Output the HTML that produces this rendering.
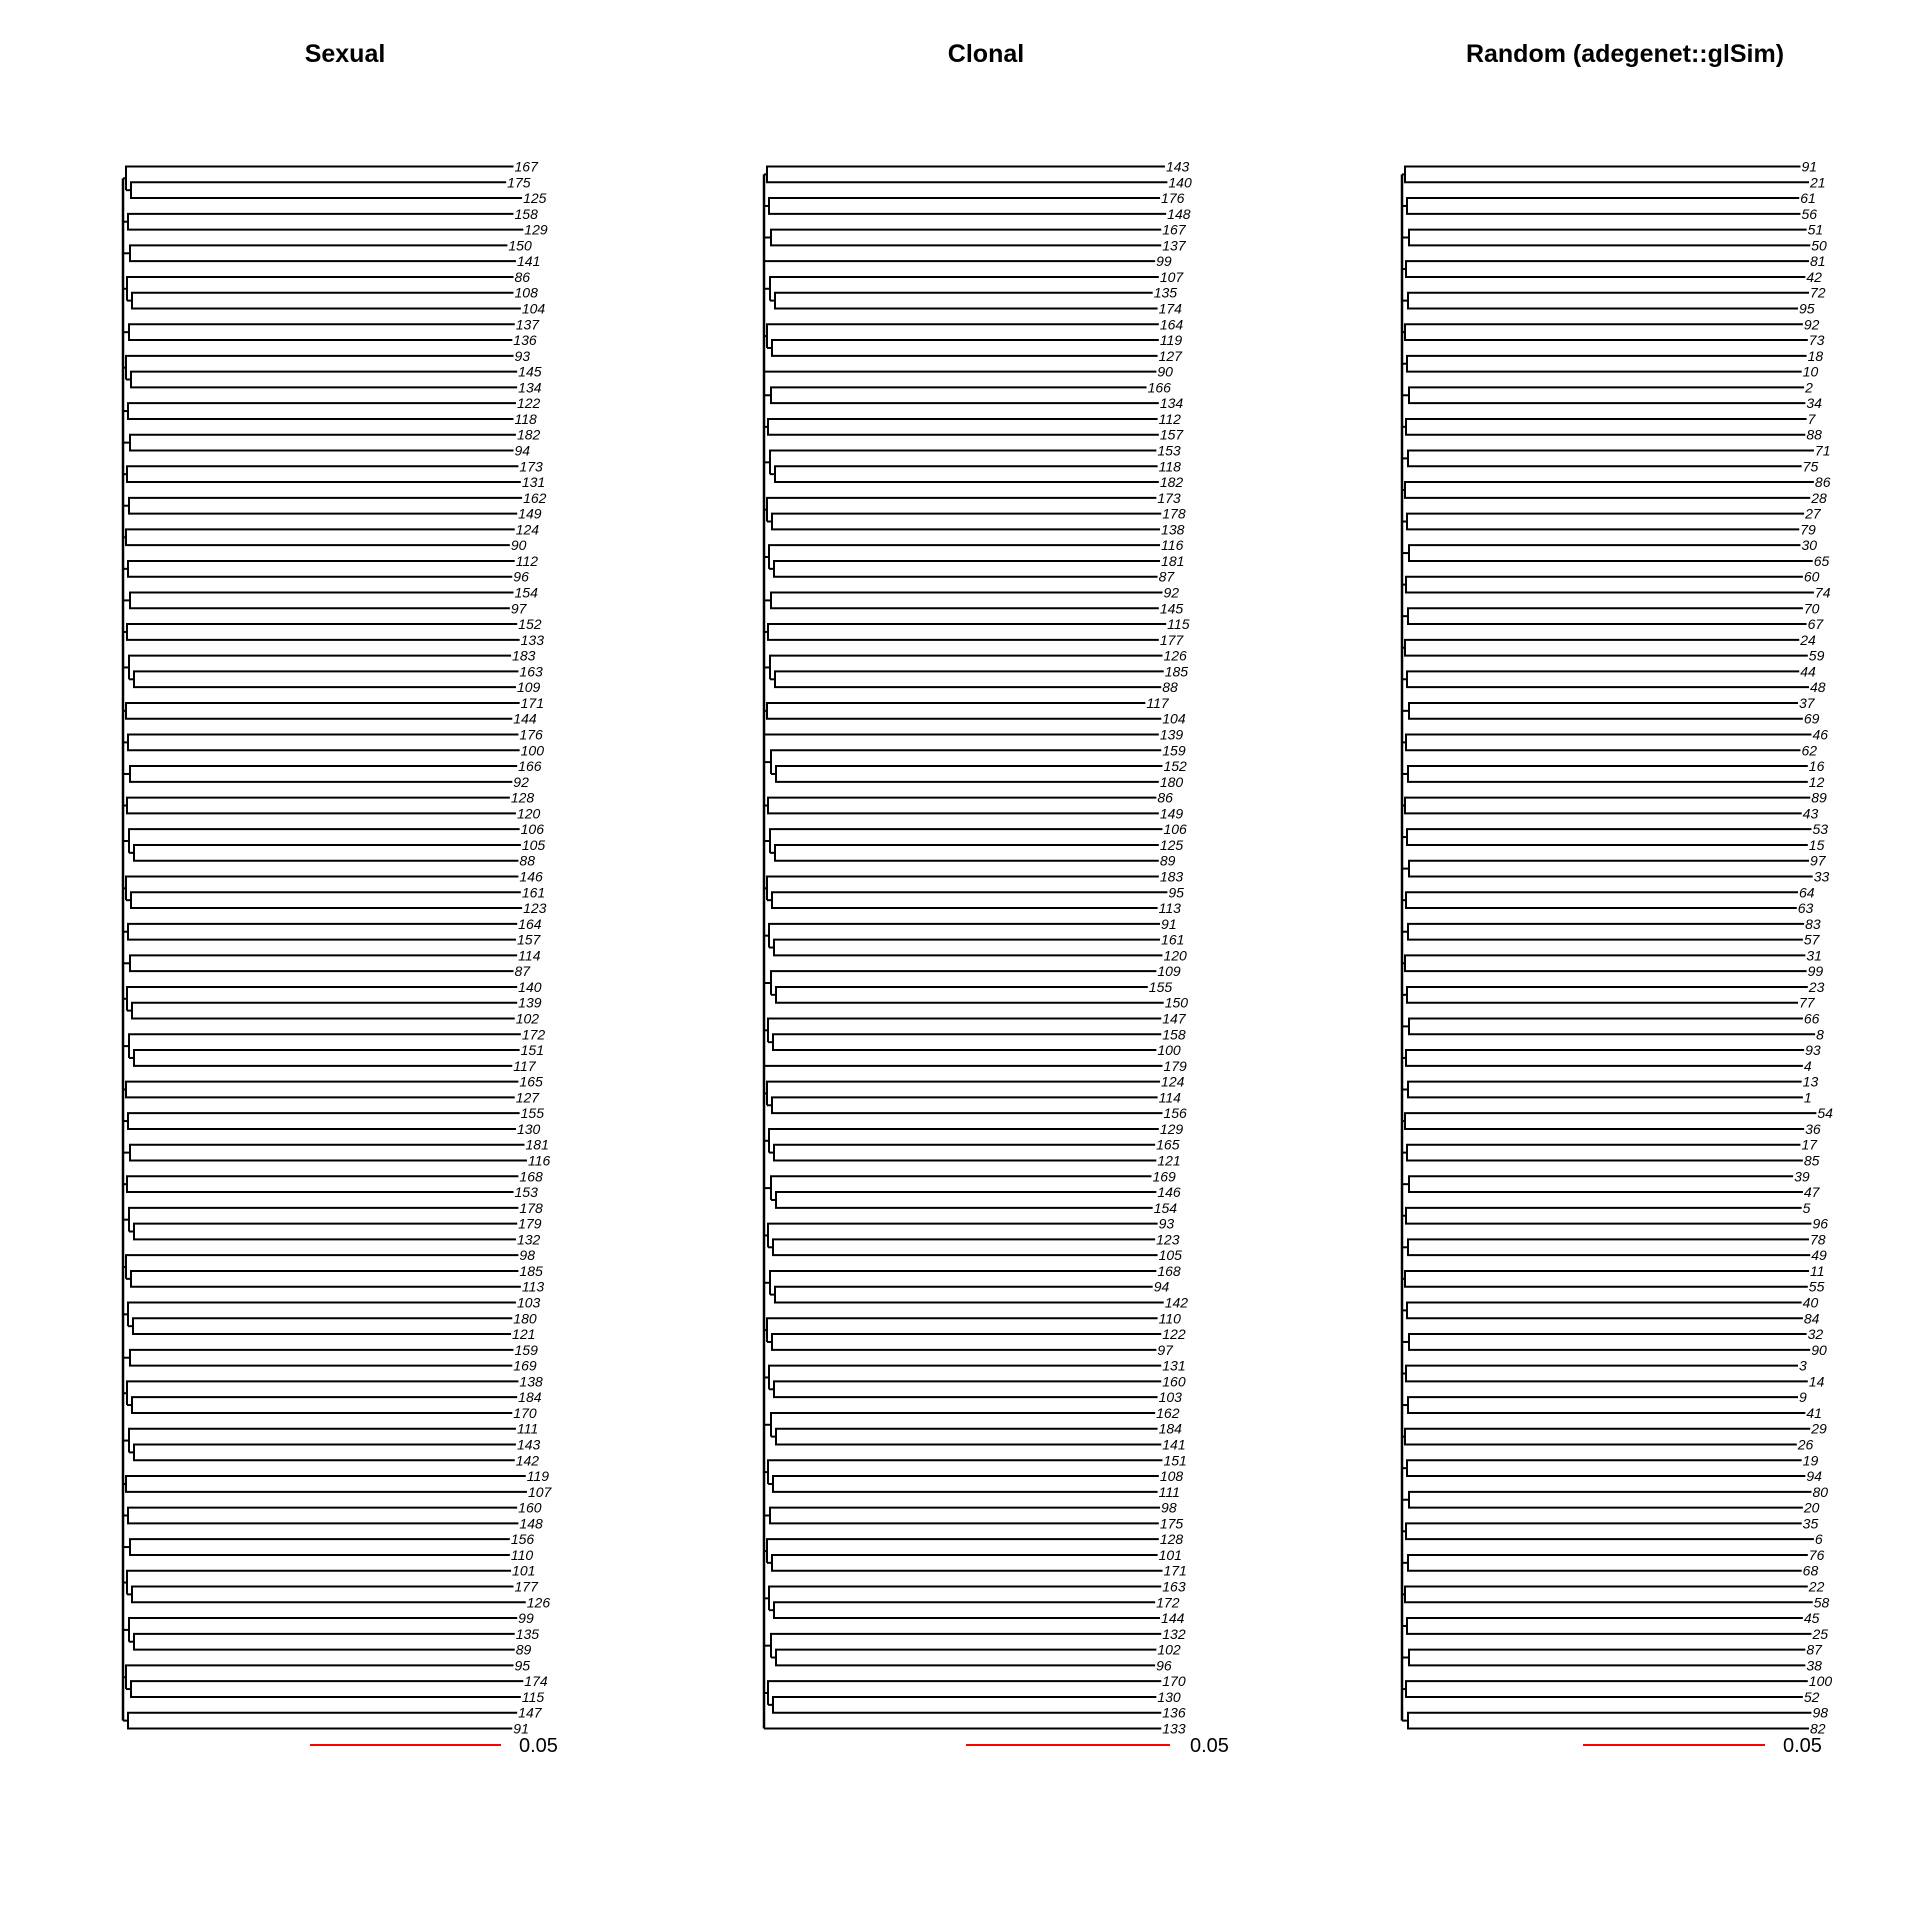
<!DOCTYPE html>
<html><head><meta charset="utf-8"><style>
html,body{margin:0;padding:0;background:#fff;}
svg{display:block;}
text{font-family:"Liberation Sans",sans-serif;}
.lab{font-size:14px;font-style:italic;fill:#000;}
.ttl{font-size:25px;font-weight:bold;fill:#000;}
</style></head><body>
<svg id="chart" width="1920" height="1920" viewBox="0 0 1920 1920" xmlns="http://www.w3.org/2000/svg">
<defs><clipPath id="clip2"><rect x="0" y="0" width="1228" height="1920"/></clipPath></defs>
</svg>
<script>
// Panel 1: Sexual
const labels1 = [167,175,125,158,129,150,141,86,108,104,137,136,93,145,134,122,118,182,94,173,131,162,149,124,90,112,96,154,97,152,133,183,163,109,171,144,176,100,166,92,128,120,106,105,88,146,161,123,164,157,114,87,140,139,102,172,151,117,165,127,155,130,181,116,168,153,178,179,132,98,185,113,103,180,121,159,169,138,184,170,111,143,142,119,107,160,148,156,110,101,177,126,99,135,89,95,174,115,147,91];
const labelX1 = [421,415,428,421,429,416,423,421,421,427,422,420,421,424,424,423,421,423,421,425,427,428,424,422,418,422,420,421,418,424,426,419,425,423,426,420,425,426,424,420,418,423,426,427,425,425,427,428,424,423,424,421,424,424,422,427,426,420,425,422,426,423,430,432,425,421,425,424,423,425,425,427,423,420,419,421,420,425,424,420,423,423,422,431,432,424,425,418,418,419,421,431,424,422,422,421,429,427,424,420];
const groups1 = [3,2,2,3,2,3,2,2,2,2,2,2,2,2,3,2,2,2,2,3,3,2,2,3,3,2,2,2,2,3,3,3,2,3,3,2,2,2,3,3,3,2];
// Panel 2: Clonal
const labels2 = [143,140,176,148,167,137,99,107,135,174,164,119,127,90,166,134,112,157,153,118,182,173,178,138,116,181,87,92,145,115,177,126,185,88,117,104,139,159,152,180,86,149,106,125,89,183,95,113,91,161,120,109,155,150,147,158,100,179,124,114,156,129,165,121,169,146,154,93,123,105,168,94,142,110,122,97,131,160,103,162,184,141,151,108,111,98,175,128,101,171,163,172,144,132,102,96,170,130,136,133];
const labelX2 = [953,955,949,954,950,950,945,948,943,947,948,948,947,946,938,948,947,948,946,947,948,946,950,949,949,949,947,951,948,954,948,951,952,950,937,950,948,950,951,948,946,948,951,948,948,948,955,947,949,949,951,946,939,952,950,950,946,951,949,947,951,948,945,946,942,946,943,947,945,947,946,943,952,947,950,946,950,950,947,945,947,950,951,948,947,949,948,948,947,951,950,945,949,950,946,945,950,946,950,950];
const groups2 = [2,2,2,1,3,3,1,2,2,3,3,3,2,2,3,2,1,3,2,3,3,3,3,3,1,3,3,3,3,3,3,3,3,3,2,3,3,3,3,1];
// Panel 3: Random (adegenet::glSim)
const labels3 = [91,21,61,56,51,50,81,42,72,95,92,73,18,10,2,34,7,88,71,75,86,28,27,79,30,65,60,74,70,67,24,59,44,48,37,69,46,62,16,12,89,43,53,15,97,33,64,63,83,57,31,99,23,77,66,8,93,4,13,1,54,36,17,85,39,47,5,96,78,49,11,55,40,84,32,90,3,14,9,41,29,26,19,94,80,20,35,6,76,68,22,58,45,25,87,38,100,52,98,82];
const labelX3 = [1472,1479,1471,1472,1477,1480,1479,1476,1479,1470,1474,1478,1477,1473,1475,1476,1477,1476,1483,1473,1483,1480,1475,1471,1472,1482,1474,1483,1474,1477,1471,1478,1471,1479,1470,1474,1481,1472,1478,1478,1480,1473,1481,1478,1479,1482,1470,1469,1475,1474,1476,1477,1478,1470,1474,1484,1475,1474,1473,1474,1485,1475,1472,1474,1466,1474,1473,1481,1479,1480,1479,1478,1473,1474,1477,1480,1470,1478,1470,1476,1480,1469,1473,1476,1481,1474,1473,1483,1478,1473,1478,1482,1474,1481,1476,1476,1478,1474,1481,1479];
const groups3 = [2,2,2,2,2,2,2,2,2,2,2,2,2,2,2,2,2,2,2,2,2,2,2,2,2,2,2,2,2,2,2,2,2,2,2,2,2,2,2,2,2,2,2,2,2,2,2,2,2,2];
const titles = ["Sexual","Clonal","Random (adegenet::glSim)"];

const S = 1920/1568;
const NS = "http://www.w3.org/2000/svg";
const svg = document.getElementById('chart');
function yOf(i){ return 166.5 + i*(1728.5-166.5)/99; }
function mk(tag, attrs, parent){
  const e = document.createElementNS(NS, tag);
  for (const k in attrs) e.setAttribute(k, attrs[k]);
  (parent||svg).appendChild(e);
  return e;
}
const panels = [
  {labels:labels1, lx:labelX1, groups:groups1, root:123, tcx:345, bar:[310,501], bl:519, clip:null},
  {labels:labels2, lx:labelX2, groups:groups2, root:764, tcx:986, bar:[966,1170], bl:1190, clip:"url(#clip2)"},
  {labels:labels3, lx:labelX3, groups:groups3, root:1402, tcx:1625, bar:[1583,1765], bl:1783, clip:null}
];
panels.forEach((p, pi) => {
  const g = mk('g', {});
  
  
  const t = mk('text', {x:p.tcx, y:62, 'text-anchor':'middle', class:'ttl'}, g);
  t.textContent = titles[pi];
  
  
  let idx = 0;
  const mids = [];
  p.groups.forEach((n, gi) => {
    if (idx + n > p.labels.length) return;
    const off = 3 + ((gi*7)%5);
    const gx = p.root + off;
    const ys = [];
    for (let k=0;k<n;k++) ys.push(yOf(idx+k));
    let gm;
    const tips = [];
    for (let k=0;k<n;k++) tips.push(p.lx[idx+k]*S - 2);
    if (n === 1) {
      gm = ys[0];
      mk('line',{x1:p.root,y1:ys[0],x2:tips[0],y2:ys[0],stroke:'#000','stroke-width':2},g);
    } else if (n === 2) {
      mk('line',{x1:gx,y1:ys[0],x2:gx,y2:ys[1],stroke:'#000','stroke-width':2},g);
      for (let k=0;k<2;k++) mk('line',{x1:gx-1,y1:ys[k],x2:tips[k],y2:ys[k],stroke:'#000','stroke-width':2},g);
      gm = (ys[0]+ys[1])/2;
    } else {
      const ix = gx + 5;
      const im = (ys[1]+ys[2])/2;
      mk('line',{x1:ix,y1:ys[1],x2:ix,y2:ys[2],stroke:'#000','stroke-width':2},g);
      mk('line',{x1:gx,y1:ys[0],x2:gx,y2:im,stroke:'#000','stroke-width':2},g);
      mk('line',{x1:gx,y1:im,x2:ix,y2:im,stroke:'#000','stroke-width':2},g);
      mk('line',{x1:gx-1,y1:ys[0],x2:tips[0],y2:ys[0],stroke:'#000','stroke-width':2},g);
      for (let k=1;k<3;k++) mk('line',{x1:ix-1,y1:ys[k],x2:tips[k],y2:ys[k],stroke:'#000','stroke-width':2},g);
      gm = (ys[0]+im)/2;
    }
    if (n>1) mk('line',{x1:p.root,y1:gm,x2:gx,y2:gm,stroke:'#000','stroke-width':2},g);
    mids.push(gm);
    for (let k=0;k<n;k++){
      const tx = mk('text',{x:tips[k]+1, y:ys[k]+5, class:'lab'}, g);
      tx.textContent = p.labels[idx+k];
      
      
    }
    idx += n;
  });
  mk('line',{x1:p.root,y1:mids[0],x2:p.root,y2:mids[mids.length-1],stroke:'#000','stroke-width':2.5},g);
  const sb = mk('line',{x1:p.bar[0],y1:1745,x2:p.bar[1],y2:1745,stroke:'#ff0000','stroke-width':2},g);
  
  
  const sl = mk('text',{x:p.bl, y:1752, 'font-size':'20px', fill:'#000'}, g);
  if (p.clip) sl.setAttribute('clip-path', p.clip);
  sl.textContent = '0.05';
  
  
});
</script>
</body></html>
